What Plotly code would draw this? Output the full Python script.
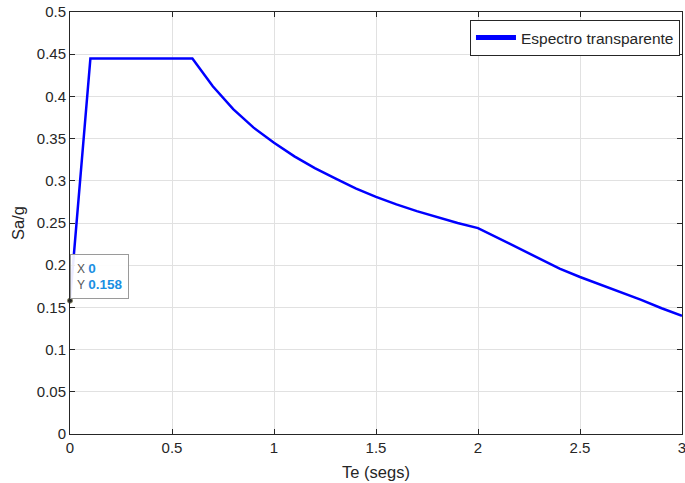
import plotly.graph_objects as go

# Data
periods = [0.0, 0.1, 0.2, 0.3, 0.4, 0.5, 0.6, 0.7, 0.8, 0.9, 1.0,
           1.1, 1.2, 1.3, 1.4, 1.5, 1.6, 1.7, 1.8, 1.9, 2.0,
           2.1, 2.2, 2.3, 2.4, 2.5, 2.6, 2.7, 2.8, 2.9, 3.0]
sa_g = [0.158, 0.445, 0.445, 0.445, 0.445, 0.445, 0.445, 0.412, 0.385, 0.363, 0.345,
        0.329, 0.315, 0.303, 0.291, 0.281, 0.272, 0.264, 0.257, 0.250, 0.244,
        0.232, 0.220, 0.208, 0.196, 0.186, 0.177, 0.168, 0.159, 0.149, 0.140]
series_name = "Espectro transparente"
tip_x = 0
tip_y = 0.158

x_ticks = [0, 0.5, 1, 1.5, 2, 2.5, 3]
x_ticklabels = ["0", "0.5", "1", "1.5", "2", "2.5", "3"]
y_ticks = [0, 0.05, 0.1, 0.15, 0.2, 0.25, 0.3, 0.35, 0.4, 0.45, 0.5]
y_ticklabels = ["0", "0.05", "0.1", "0.15", "0.2", "0.25", "0.3", "0.35", "0.4", "0.45", "0.5"]

FONT = "Liberation Sans, Arial, sans-serif"
DARK = "#262626"
GRID = "#e1e1e1"

fig = go.Figure()
fig.add_trace(go.Scatter(
    x=periods, y=sa_g, mode="lines", name=series_name,
    line=dict(color="#0000ff", width=2.5),
))
fig.add_trace(go.Scatter(
    x=[tip_x], y=[tip_y], mode="markers", showlegend=False,
    marker=dict(color="#222222", size=5, line=dict(color="#888866", width=1)),
    cliponaxis=False, hoverinfo="skip",
))

fig.add_annotation(
    x=tip_x, y=tip_y, xref="x", yref="y",
    text=("X <span style='color:#1a8fe3;font-size:13.5px'><b>%s</b></span><br>"
          "Y <span style='color:#1a8fe3;font-size:13.5px'><b>%s</b></span>") % (f"{tip_x:g}", f"{tip_y:g}"),
    showarrow=False, xanchor="left", yanchor="bottom", align="left",
    xshift=0, yshift=2,
    font=dict(family=FONT, size=12, color="#555555"),
    bgcolor="rgba(255,255,255,0.92)", bordercolor="#9a9a9a", borderwidth=1, borderpad=6,
)

axis_common = dict(
    showline=True, linecolor=DARK, linewidth=1, mirror="ticks",
    ticks="inside", ticklen=5, tickcolor=DARK,
    showgrid=True, gridcolor=GRID, gridwidth=1,
    zeroline=False, ticklabeloverflow="allow", automargin=False,
    tickfont=dict(family=FONT, size=15, color=DARK),
)

fig.update_xaxes(
    range=[0, 3], tickmode="array", tickvals=x_ticks, ticktext=x_ticklabels,
    title=dict(text="Te (segs)", font=dict(family=FONT, size=16.5, color=DARK), standoff=11),
    **axis_common,
)
fig.update_yaxes(
    range=[0, 0.5], tickmode="array", tickvals=y_ticks, ticktext=y_ticklabels,
    title=dict(text="Sa/g", font=dict(family=FONT, size=16.5, color=DARK), standoff=8),
    **axis_common,
)

fig.update_layout(
    width=685, height=483,
    margin=dict(l=70, r=3, t=12, b=49),
    paper_bgcolor="white", plot_bgcolor="white",
    font=dict(family=FONT, color=DARK),
    legend=dict(
        x=0.9967, y=0.981, xanchor="right", yanchor="top",
        bgcolor="white", bordercolor=DARK, borderwidth=1,
        font=dict(family=FONT, size=15.5, color=DARK),
        tracegroupgap=0, itemsizing="constant", itemwidth=40,
    ),
    showlegend=True,
)

# remove the default page margin so the 685x483 figure fills the window exactly
fig.write_html(
    "out.html",
    config={"displayModeBar": False},
    post_script="document.body.style.margin='0';document.body.style.overflow='hidden';",
)
